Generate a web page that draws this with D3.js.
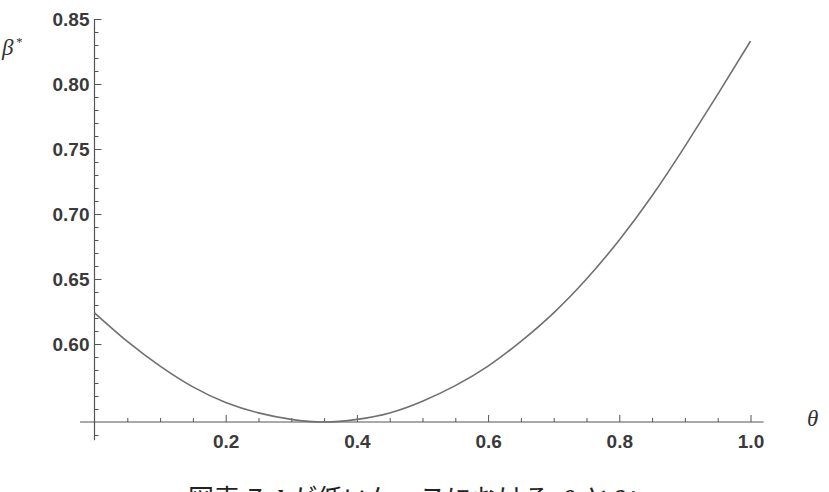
<!DOCTYPE html>
<html>
<head>
<meta charset="utf-8">
<script src="https://cdn.jsdelivr.net/npm/d3@7"></script>
<style>
  body { margin: 0; background: #fff; }
  svg { display: block; }
</style>
</head>
<body>
<svg width="829" height="492"></svg>
<script>
// θ values and β*
var theta = [0, 0.05, 0.1, 0.15, 0.2, 0.25, 0.3, 0.35, 0.4, 0.45, 0.5, 0.55, 0.6, 0.65, 0.7, 0.75, 0.8, 0.85, 0.9, 0.95, 1.0];
var beta  = [0.624, 0.602, 0.583, 0.567, 0.555, 0.547, 0.542, 0.540, 0.542, 0.547, 0.556, 0.568, 0.583, 0.602, 0.624, 0.650, 0.680, 0.714, 0.752, 0.792, 0.833];

var xMajor = [0.2, 0.4, 0.6, 0.8, 1.0];
var yMajor = [0.60, 0.65, 0.70, 0.75, 0.80, 0.85];

var svg = d3.select("svg");

var x = d3.scaleLinear().domain([0, 1]).range([94.5, 750.5]);
var y = d3.scaleLinear().domain([0.54, 0.85]).range([422, 19]);

var xMinor = d3.range(1, 21).map(function(i) { return i / 20; })
    .filter(function(v) { return Math.abs(v * 5 - Math.round(v * 5)) > 1e-6; });
var yMinor = d3.range(53, 86).map(function(i) { return i / 100; })
    .filter(function(v) { return !yMajor.some(function(m) { return Math.abs(m - v) < 1e-6; }) && Math.abs(v - 0.54) > 1e-6; });

var axisColor = "#555";

// axis lines
svg.append("line")
    .attr("x1", x(-0.022)).attr("x2", x(1.02))
    .attr("y1", y(0.54)).attr("y2", y(0.54))
    .attr("stroke", axisColor).attr("stroke-width", 1.2);
svg.append("line")
    .attr("x1", x(0)).attr("x2", x(0))
    .attr("y1", y(0.85)).attr("y2", y(0.526))
    .attr("stroke", axisColor).attr("stroke-width", 1.2);

// x axis ticks
var gx = svg.append("g").attr("transform", "translate(0," + y(0.54) + ")");
gx.append("g")
    .call(d3.axisBottom(x).tickValues(xMinor).tickSizeInner(-4).tickSizeOuter(0).tickFormat(""));
gx.append("g")
    .call(d3.axisBottom(x).tickValues(xMajor).tickSizeInner(-7).tickSizeOuter(0).tickPadding(13)
      .tickFormat(d3.format(".1f")));

// y axis ticks
var gy = svg.append("g").attr("transform", "translate(" + x(0) + ",0)");
gy.append("g")
    .call(d3.axisLeft(y).tickValues(yMinor).tickSizeInner(-4).tickSizeOuter(0).tickFormat(""));
gy.append("g")
    .call(d3.axisLeft(y).tickValues(yMajor).tickSizeInner(-7).tickSizeOuter(0).tickPadding(5)
      .tickFormat(d3.format(".2f")));

svg.selectAll(".domain").remove();
svg.selectAll(".tick line").attr("stroke", axisColor).attr("stroke-width", 1);
svg.selectAll(".tick text")
    .attr("font-family", "'Liberation Sans', Arial, sans-serif")
    .attr("font-size", 19)
    .attr("font-weight", "bold")
    .attr("fill", "#3a3a3a");

// curve
var data = theta.map(function(t, i) { return {t: t, b: beta[i]}; });
svg.append("path")
    .datum(data)
    .attr("fill", "none")
    .attr("stroke", "#707070")
    .attr("stroke-width", 1.6)
    .attr("d", d3.line()
      .x(function(d) { return x(d.t); })
      .y(function(d) { return y(d.b); })
      .curve(d3.curveNatural));

// axis labels
var yl = svg.append("text")
    .attr("x", 2).attr("y", 55)
    .attr("font-family", "'Liberation Serif', 'DejaVu Serif', serif")
    .attr("font-style", "italic")
    .attr("font-size", 23)
    .attr("fill", "#333");
yl.append("tspan").text("β");
yl.append("tspan").attr("font-size", 13).attr("dy", -9).attr("dx", 2).text("*");

svg.append("text")
    .attr("x", 807).attr("y", 426)
    .attr("font-family", "'Liberation Serif', 'DejaVu Serif', serif")
    .attr("font-style", "italic")
    .attr("font-size", 23)
    .attr("fill", "#333")
    .text("θ");

// caption (cut off at the bottom edge, as in the reference)
var capParts = [
  {t: "図表", x: 188, math: false},
  {t: "7", x: 248, math: false},
  {t: "k", x: 276, math: true},
  {t: "が低いケースにおける", x: 291, math: false},
  {t: "θ", x: 562, math: true},
  {t: "と", x: 584, math: false},
  {t: "β*", x: 612, math: true}
];
var cap = svg.append("text")
    .attr("y", 508)
    .attr("font-family", "'Noto Sans CJK JP', sans-serif")
    .attr("font-size", 26)
    .attr("fill", "#222");
capParts.forEach(function(p) {
  var s = cap.append("tspan").attr("x", p.x).text(p.t);
  if (p.math) {
    s.attr("font-family", "'Liberation Serif', serif")
     .attr("font-style", "italic")
     .attr("font-weight", "bold");
  }
});
</script>
</body>
</html>
